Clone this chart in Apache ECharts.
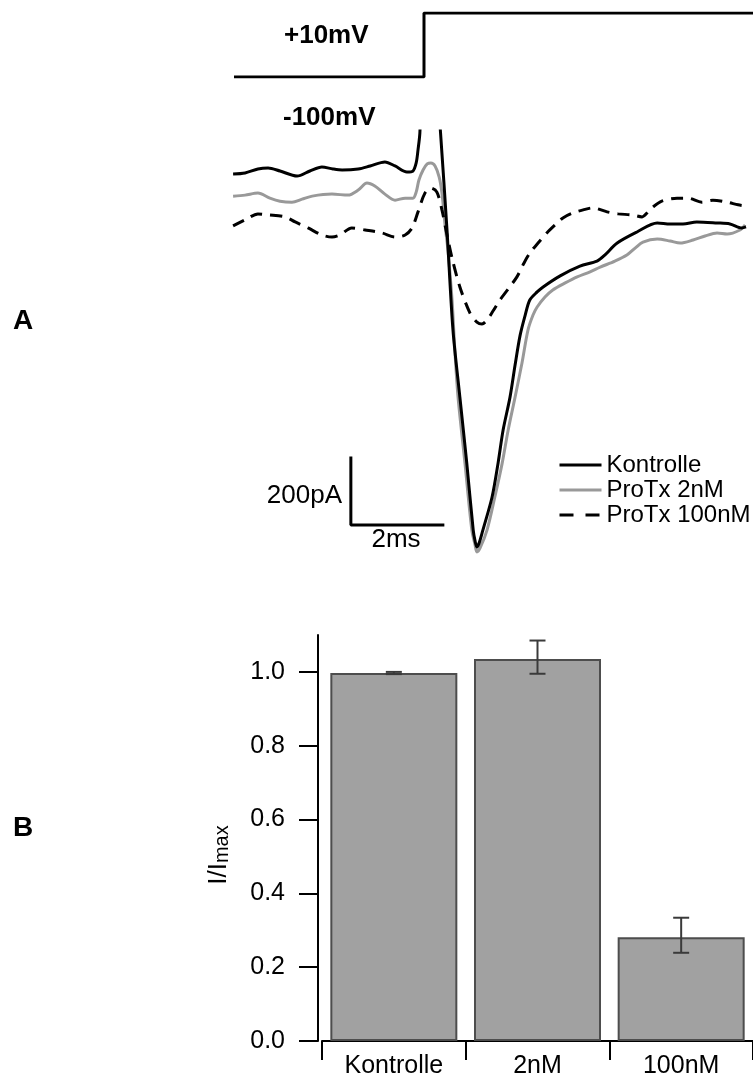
<!DOCTYPE html>
<html>
<head>
<meta charset="utf-8">
<script src="https://cdn.jsdelivr.net/npm/echarts@6/dist/echarts.min.js"></script>
<style>
html,body{margin:0;padding:0;background:#fff;}
#chart{width:753px;height:1081px;}
</style>
</head>
<body>
<div id="chart"></div>
<script>
// ---------- Panel A: voltage protocol ----------
const protocolT = [-4.13, 0, 0, 7.16];      // ms
const protocolV = [-100, -100, 10, 10];     // mV

// ---------- Panel A: current traces (t in ms, I in pA) ----------
const kontrolleT = [-4.15,-3.89,-3.61,-3.39,-3.13,-2.76,-2.48,-2.22,-1.98,-1.78,-1.43,-1.17,-0.85,-0.63,-0.37,-0.24,-0.17,-0.13,-0.09,-0.07,0.10,0.36,0.50,0.63,0.78,0.93,1.07,1.11,1.15,1.20,1.28,1.48,1.61,1.72,1.87,1.98,2.09,2.20,2.30,2.46,2.59,2.96,3.39,3.76,3.93,4.20,4.63,5.07,5.35,5.63,5.93,6.37,6.65,6.91,7.00];
const kontrolleI = [-12,-9,3,6,-3,-18,-3,9,3,0,3,12,24,12,-6,-3,21,60,110,209,600,110,-179,-478,-678,-875,-1075,-1107,-1125,-1113,-1075,-976,-875,-776,-678,-582,-493,-433,-388,-364,-349,-316,-287,-272,-254,-218,-185,-158,-161,-161,-155,-158,-161,-173,-170];

const protx2T = [-4.15,-3.89,-3.61,-3.35,-3.13,-2.87,-2.65,-2.43,-2.00,-1.65,-1.43,-1.24,-1.07,-0.85,-0.63,-0.41,-0.24,-0.17,-0.11,-0.02,0.07,0.15,0.24,0.33,0.39,0.46,0.52,0.61,0.67,0.74,0.89,1.04,1.11,1.15,1.22,1.37,1.54,1.70,1.83,1.98,2.13,2.26,2.37,2.46,2.63,2.80,3.07,3.33,3.61,3.83,4.15,4.41,4.59,4.76,5.07,5.35,5.57,5.85,6.11,6.37,6.59,6.87,6.98];
const protx2I = [-78,-75,-69,-84,-93,-96,-87,-78,-72,-75,-60,-39,-48,-72,-90,-84,-84,-66,-30,0,18,21,12,-21,-69,-167,-239,-388,-537,-678,-875,-1075,-1119,-1140,-1128,-1075,-976,-875,-776,-678,-576,-478,-433,-409,-379,-358,-337,-319,-304,-290,-272,-254,-233,-215,-206,-212,-218,-209,-197,-188,-191,-179,-164];

const protx100T = [-4.15,-3.89,-3.61,-3.39,-3.02,-2.80,-2.52,-2.22,-2.00,-1.83,-1.57,-1.28,-0.91,-0.63,-0.41,-0.26,-0.13,0.02,0.15,0.28,0.39,0.50,0.61,0.78,1.00,1.15,1.26,1.37,1.50,1.65,1.83,2.02,2.15,2.30,2.48,2.67,2.85,3.02,3.24,3.46,3.67,3.98,4.22,4.52,4.74,4.87,4.98,5.17,5.50,5.74,6.04,6.28,6.59,6.83,6.98];
const protx100I = [-167,-149,-131,-134,-140,-155,-173,-194,-200,-194,-173,-179,-188,-200,-194,-173,-125,-69,-54,-66,-119,-194,-263,-349,-427,-454,-460,-448,-421,-388,-355,-319,-284,-248,-218,-188,-164,-143,-128,-119,-113,-125,-131,-134,-140,-125,-110,-93,-84,-84,-96,-90,-96,-104,-107];

// scale bar: 200 pA (vertical) and 2 ms (horizontal)
const scaleBarT = [-1.59, -1.59, 0.41];
const scaleBarI = [-860, -1060, -1060];

const traceNames = ['Kontrolle', 'ProTx 2nM', 'ProTx 100nM'];

// ---------- Panel B: bar chart ----------
const barCategories = ['Kontrolle', '2nM', '100nM'];
const barValues = [0.997, 1.035, 0.281];
const errLow  = [0.994, 0.995, 0.239];
const errHigh = [1.000, 1.085, 0.334];
const yTicks = [0, 0.2, 0.4, 0.6, 0.8, 1.0];

const zip = (a, b) => a.map((v, i) => [v, b[i]]);

const FONT = '"Liberation Sans", Arial, Helvetica, sans-serif';
const chart = echarts.init(document.getElementById('chart'), null, {renderer: 'canvas'});

const option = {
  backgroundColor: '#fff',
  animation: false,
  textStyle: {fontFamily: FONT},
  grid: [
    {left: 233, width: 520, top: 13, height: 64},
    {left: 233, width: 520, top: 131, height: 436},
    {left: 322, width: 433.5, top: 635, height: 406}
  ],
  xAxis: [
    {gridIndex: 0, type: 'value', min: -4.152, max: 7.152, show: false},
    {gridIndex: 1, type: 'value', min: -4.152, max: 7.152, show: false},
    {gridIndex: 2, type: 'category', data: barCategories, offset: 3,
     axisLine: {show: true, lineStyle: {color: '#000', width: 2}},
     axisTick: {show: true, length: 19, interval: 0, alignWithLabel: false, lineStyle: {color: '#000', width: 2}},
     axisLabel: {fontSize: 25, color: '#000', margin: 10, interval: 0, fontFamily: FONT},
     splitLine: {show: false}}
  ],
  yAxis: [
    {gridIndex: 0, type: 'value', min: -100, max: 10, show: false},
    {gridIndex: 1, type: 'value', min: -1185, max: 116.4, show: false},
    {gridIndex: 2, type: 'value', min: 0, max: 1.1, offset: 4,
     name: '{a|I/I}{b|max}', nameLocation: 'middle', nameRotate: 90, nameGap: 86,
     nameTextStyle: {
       color: '#000', padding: [0, 34, 0, 0],
       rich: {
         a: {fontSize: 26, fontFamily: FONT, color: '#000', lineHeight: 26, verticalAlign: 'top'},
         b: {fontSize: 20, fontFamily: FONT, color: '#000', lineHeight: 20, verticalAlign: 'bottom', padding: [12, 0, 0, 0]}
       }
     },
     axisLine: {show: true, lineStyle: {color: '#000', width: 2}},
     axisTick: {show: true, length: 19, customValues: yTicks, lineStyle: {color: '#000', width: 2}},
     axisLabel: {fontSize: 25, color: '#000', margin: 33, customValues: yTicks, fontFamily: FONT,
                 formatter: v => v.toFixed(1)},
     splitLine: {show: false}}
  ],
  legend: {
    data: [
      {name: 'Kontrolle'},
      {name: 'ProTx 2nM'},
      {name: 'ProTx 100nM', lineStyle: {type: [14, 12]}}
    ],
    orient: 'vertical', left: 553, top: 448,
    itemWidth: 42, itemHeight: 14, itemGap: 1,
    selectedMode: false,
    itemStyle: {opacity: 0},
    lineStyle: {width: 3},
    textStyle: {fontSize: 24, color: '#000', lineHeight: 24, fontFamily: FONT}
  },
  series: [
    {type: 'line', xAxisIndex: 0, yAxisIndex: 0, data: zip(protocolT, protocolV),
     symbol: 'none', silent: true, lineStyle: {color: '#000', width: 3}},
    {name: traceNames[1], type: 'line', xAxisIndex: 1, yAxisIndex: 1, data: zip(protx2T, protx2I),
     symbol: 'none', smooth: 0.3, clip: true, lineStyle: {color: '#999', width: 3}, itemStyle: {color: '#999'}},
    {name: traceNames[2], type: 'line', xAxisIndex: 1, yAxisIndex: 1, data: zip(protx100T, protx100I),
     symbol: 'none', smooth: 0.3, clip: true, lineStyle: {color: '#000', width: 3, type: [12, 8]}, itemStyle: {color: '#000'}},
    {name: traceNames[0], type: 'line', xAxisIndex: 1, yAxisIndex: 1, data: zip(kontrolleT, kontrolleI),
     symbol: 'none', smooth: 0.3, clip: true, lineStyle: {color: '#000', width: 3}, itemStyle: {color: '#000'}},
    {type: 'line', xAxisIndex: 1, yAxisIndex: 1, data: zip(scaleBarT, scaleBarI),
     symbol: 'none', silent: true, clip: false, lineStyle: {color: '#000', width: 3, cap: 'square'}},
    {type: 'bar', xAxisIndex: 2, yAxisIndex: 2, data: barValues, barWidth: 127,
     itemStyle: {color: '#a1a1a1', borderColor: '#4d4d4d', borderWidth: 2}, silent: true},
    {type: 'custom', xAxisIndex: 2, yAxisIndex: 2, silent: true, z: 5,
     data: barCategories.map((c, i) => [i, errLow[i], errHigh[i]]),
     renderItem: function (params, api) {
       const lo = api.coord([api.value(0), api.value(1)]);
       const hi = api.coord([api.value(0), api.value(2)]);
       const hw = 8;
       const st = {stroke: '#3a3a3a', lineWidth: 2};
       return {type: 'group', children: [
         {type: 'line', shape: {x1: lo[0], y1: lo[1], x2: hi[0], y2: hi[1]}, style: st},
         {type: 'line', shape: {x1: hi[0] - hw, y1: hi[1], x2: hi[0] + hw, y2: hi[1]}, style: st},
         {type: 'line', shape: {x1: lo[0] - hw, y1: lo[1], x2: lo[0] + hw, y2: lo[1]}, style: st}
       ]};
     }}
  ],
  graphic: [
    {type: 'text', x: 284, y: 36, style: {text: '+10mV', fontSize: 26, fontWeight: 'bold', fontFamily: FONT, fill: '#000', align: 'left', verticalAlign: 'middle'}},
    {type: 'text', x: 283, y: 118, style: {text: '-100mV', fontSize: 26, fontWeight: 'bold', fontFamily: FONT, fill: '#000', align: 'left', verticalAlign: 'middle'}},
    {type: 'text', x: 342, y: 496, style: {text: '200pA', fontSize: 26, fontFamily: FONT, fill: '#000', align: 'right', verticalAlign: 'middle'}},
    {type: 'text', x: 396, y: 540, style: {text: '2ms', fontSize: 26, fontFamily: FONT, fill: '#000', align: 'center', verticalAlign: 'middle'}},
    {type: 'text', x: 13, y: 321, style: {text: 'A', fontSize: 28, fontWeight: 'bold', fontFamily: FONT, fill: '#000', align: 'left', verticalAlign: 'middle'}},
    {type: 'text', x: 13, y: 828, style: {text: 'B', fontSize: 28, fontWeight: 'bold', fontFamily: FONT, fill: '#000', align: 'left', verticalAlign: 'middle'}}
  ]
};
chart.setOption(option);
</script>
</body>
</html>
